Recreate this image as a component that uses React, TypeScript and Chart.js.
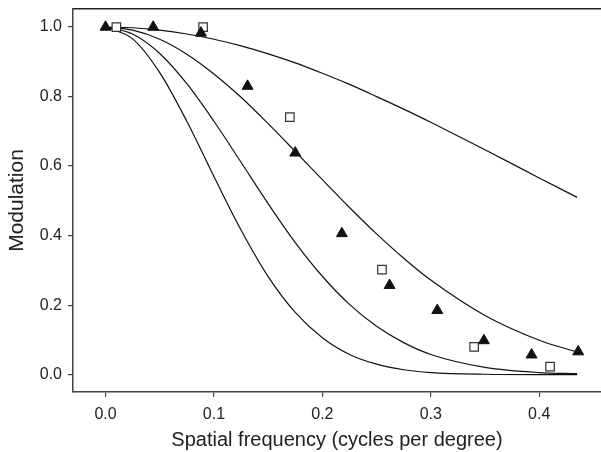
import React, { useEffect, useRef } from "react";
import { Chart, registerables } from "chart.js";

Chart.register(...registerables);

// Model curves
const curveX = [0, 0.025, 0.05, 0.075, 0.1, 0.125, 0.15, 0.175, 0.2, 0.225, 0.25, 0.275, 0.3, 0.35, 0.4, 0.435];
const curve1 = [1, 0.998, 0.991, 0.98, 0.965, 0.946, 0.923, 0.897, 0.867, 0.835, 0.8, 0.764, 0.726, 0.647, 0.566, 0.51];
const curve2 = [1, 0.991, 0.965, 0.922, 0.865, 0.798, 0.722, 0.642, 0.561, 0.481, 0.405, 0.335, 0.272, 0.17, 0.099, 0.065];
const curve3 = [1, 0.98, 0.924, 0.837, 0.729, 0.611, 0.492, 0.38, 0.283, 0.202, 0.139, 0.092, 0.058, 0.021, 0.006, 0.003];
const curve4 = [1, 0.966, 0.869, 0.729, 0.57, 0.416, 0.282, 0.179, 0.106, 0.058, 0.03, 0.014, 0.006, 0.001, 0.0, 0.0];

// Measured data: filled triangles
const triX = [0, 0.044, 0.088, 0.131, 0.175, 0.218, 0.262, 0.306, 0.349, 0.393, 0.436];
const triY = [1.0, 1.0, 0.983, 0.83, 0.638, 0.406, 0.257, 0.185, 0.098, 0.057, 0.066];

// Measured data: open squares
const sqX = [0.01, 0.09, 0.17, 0.255, 0.34, 0.41];
const sqY = [1.0, 1.0, 0.741, 0.302, 0.08, 0.023];

const xTicks = [0, 0.1, 0.2, 0.3, 0.4];
const yTicks = [0, 0.2, 0.4, 0.6, 0.8, 1.0];

const FONT = "'Liberation Sans', Arial, Helvetica, sans-serif";

const zeroPad = (s: any) => {
  s.paddingTop = 0;
  s.paddingBottom = 0;
  s.paddingLeft = 0;
  s.paddingRight = 0;
};

export default function App() {
  const ref = useRef<HTMLCanvasElement | null>(null);

  useEffect(() => {
    document.body.style.margin = "0";
    const canvas = ref.current;
    if (!canvas) return;
    const pts = (xs: number[], ys: number[]) => xs.map((x, i) => ({ x, y: ys[i] }));
    const lineDs = (ys: number[]) => ({
      type: "line" as const,
      data: pts(curveX, ys),
      borderColor: "#111",
      borderWidth: 1.2,
      pointRadius: 0,
      fill: false,
      showLine: true,
      cubicInterpolationMode: "monotone" as const,
      order: 3,
    });
    const chart = new Chart(canvas, {
      type: "scatter",
      data: {
        datasets: [
          lineDs(curve1),
          lineDs(curve2),
          lineDs(curve3),
          lineDs(curve4),
          {
            type: "scatter",
            data: pts(sqX, sqY),
            pointStyle: "rect",
            pointRadius: 6,
            pointBackgroundColor: "#fff",
            pointBorderColor: "#333",
            pointBorderWidth: 1.2,
            order: 1,
          } as any,
          {
            type: "scatter",
            data: pts(triX, triY),
            pointStyle: "triangle",
            pointRadius: 6.3,
            pointBackgroundColor: "#111",
            pointBorderColor: "#111",
            pointBorderWidth: 1,
            order: 0,
          } as any,
        ],
      },
      options: {
        animation: false,
        responsive: false,
        layout: { padding: 0, autoPadding: false },
        plugins: { legend: { display: false }, tooltip: { enabled: false } },
        scales: {
          x: {
            type: "linear",
            min: -0.03,
            max: 0.457,
            afterFit: (s: any) => { s.height = 60; zeroPad(s); },
            afterBuildTicks: (s: any) => { s.ticks = xTicks.map((v) => ({ value: v })); },
            ticks: {
              callback: (v: any) => Number(v).toFixed(1),
              font: { family: FONT, size: 16 },
              color: "#222",
              padding: 8,
              maxRotation: 0,
            },
            grid: { display: true, drawOnChartArea: false, drawTicks: true, tickLength: 5, color: "#444", lineWidth: 1.2 },
            border: { display: true, color: "#444", width: 1.5 },
            title: {
              display: true,
              text: "Spatial frequency (cycles per degree)",
              font: { family: FONT, size: 20 },
              color: "#222",
              padding: { top: 0, bottom: 0 },
            },
          },
          xTop: {
            type: "linear",
            position: "top",
            min: -0.03,
            max: 0.457,
            afterFit: (s: any) => { s.height = 9; zeroPad(s); },
            ticks: { display: false },
            grid: { display: false },
            border: { display: true, color: "#222", width: 1.5 },
          },
          y: {
            type: "linear",
            min: -0.05,
            max: 1.052,
            afterFit: (s: any) => { s.width = 73; zeroPad(s); },
            afterBuildTicks: (s: any) => { s.ticks = yTicks.map((v) => ({ value: v })); },
            ticks: {
              callback: (v: any) => Number(v).toFixed(1),
              font: { family: FONT, size: 16 },
              color: "#222",
              padding: 6,
            },
            grid: { display: true, drawOnChartArea: false, drawTicks: true, tickLength: 5, color: "#444", lineWidth: 1.2 },
            border: { display: true, color: "#444", width: 1.5 },
            title: {
              display: true,
              text: "Modulation",
              font: { family: FONT, size: 21 },
              color: "#222",
              padding: { top: 5, bottom: 0 },
            },
          },
        },
      },
    } as any);
    return () => chart.destroy();
  }, []);

  return <canvas ref={ref} width={601} height={452} style={{ display: "block" }} />;
}
